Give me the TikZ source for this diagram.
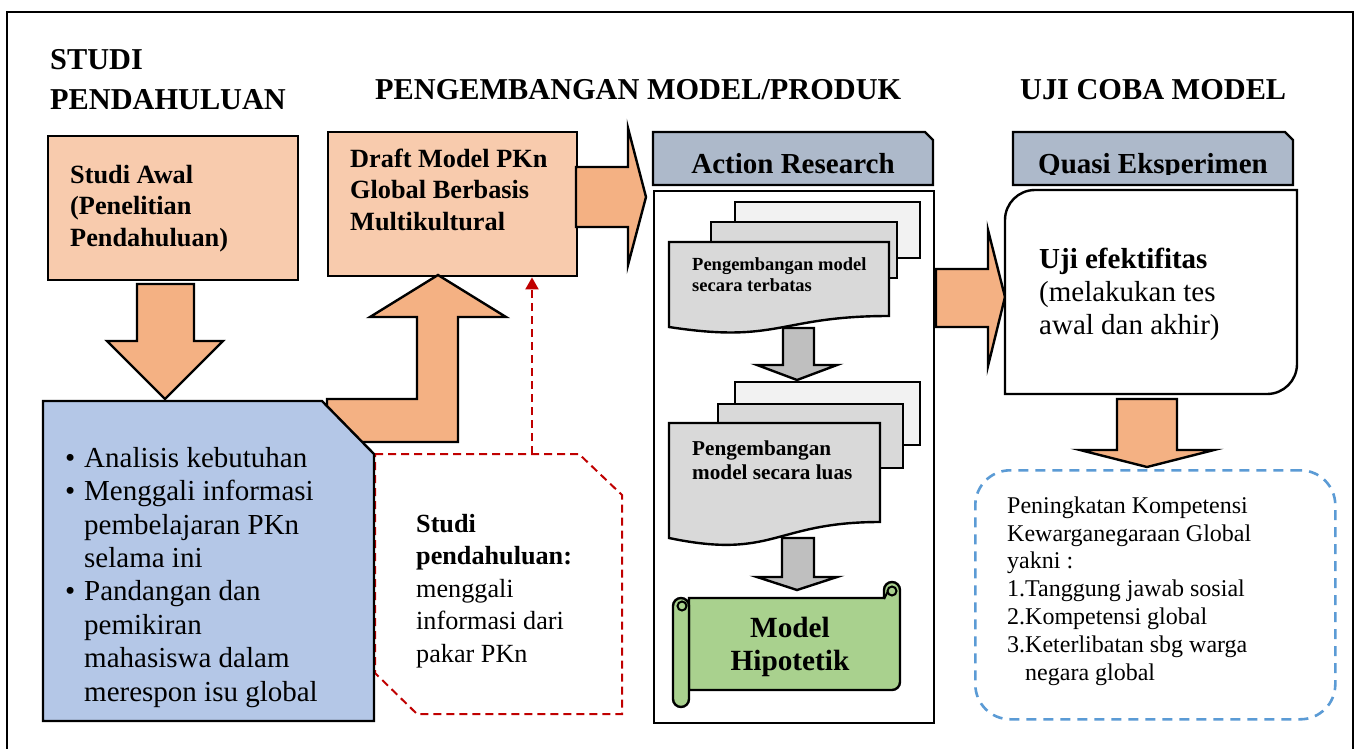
\documentclass[tikz,border=0pt]{standalone}
\usepackage{fontspec}
\setmainfont{Liberation Serif}
\usetikzlibrary{arrows.meta}

\definecolor{peach}{HTML}{F8CBAD}
\definecolor{apricot}{HTML}{F4B183}
\definecolor{paleblue}{HTML}{B4C7E7}
\definecolor{slate}{HTML}{ADB9CA}
\definecolor{sheetlight}{HTML}{F2F2F2}
\definecolor{sheetgrey}{HTML}{D9D9D9}
\definecolor{arrowgrey}{HTML}{BFBFBF}
\definecolor{leafgreen}{HTML}{A9D18E}
\definecolor{deepred}{HTML}{C00000}
\definecolor{skyblue}{HTML}{5B9BD5}

\newcommand{\fsz}[2]{\fontsize{#1}{#2}\selectfont}
\newcommand{\bul}{\makebox[19pt][l]{\textbullet}}
\newcommand{\hang}{\hspace*{19pt}}

\begin{document}
\begin{tikzpicture}[x=1pt,y=-1pt,
  outline/.style={draw=black,line width=2.4pt,line join=miter,miter limit=12},
  panel/.style={outline,rectangle,inner sep=0pt,anchor=north west},
  orangearrow/.style={outline,fill=apricot},
  greyarrow/.style={outline,fill=arrowgrey},
  % multi-line labels are placed by the baseline of their LAST line
  label/.style={inner sep=0pt,anchor=base west,align=left},
  heading/.style={label,font=\fsz{30.3}{40}\bfseries},
  reddash/.style={draw=deepred,line width=2pt,dash pattern=on 8pt off 5pt},
  bluedash/.style={draw=skyblue,line width=2.6pt,dash pattern=on 10pt off 7pt},
]
\useasboundingbox (0,0) rectangle (1360,749);
\fill[white] (0,0) rectangle (1360,749);

% outer frame
\draw[line width=2.6pt] (7,12) rectangle (1353,780);

% section headings
\node[heading] (hStudi) at (50,110) {STUDI\\PENDAHULUAN};
\node[heading] (hDev) at (375,100) {PENGEMBANGAN MODEL/PRODUK};
\node[heading] (hTrial) at (1020,100) {UJI COBA MODEL};

% ---------------- preliminary study column ----------------
\node[panel,fill=peach,minimum width=250pt,minimum height=144pt] (awal) at (47,135) {};
\node[label,font=\fsz{26.3}{31.5}\bfseries] (awalText) at (70,246)
  {Studi Awal\\(Penelitian\\Pendahuluan)};

\draw[orangearrow] (137,284) -- (194,284) -- (194,341) -- (223,341)
  -- (165,399) -- (107,341) -- (137,341) -- cycle;

% draft model box
\node[panel,fill=peach,minimum width=249pt,minimum height=144pt] (draft) at (327,131) {};
\node[label,font=\fsz{26.3}{31.5}\bfseries] (draftText) at (350,230)
  {Draft Model PKn\\Global Berbasis\\Multikultural};

% bent arrow from the needs analysis up to the draft
\draw[orangearrow] (327,399) -- (417,399) -- (417,317) -- (370,317)
  -- (438,275) -- (506,317) -- (458,317) -- (458,442) -- (327,442) -- cycle;

% expert consultation (dashed octagon) and its link to the draft
\draw[reddash] (375,454) -- (579,454) -- (622,495) -- (622,714)
  -- (417,714) -- (375,673) -- cycle;
\coordinate (expertTop) at (532,454);
\draw[reddash,-{Triangle[length=12pt,width=13pt]}] (expertTop) -- (expertTop |- draft.south);
\node[label,font=\fsz{26.2}{32.5}] (expertText) at (416,662)
  {\textbf{Studi}\\\textbf{pendahuluan:}\\menggali\\informasi dari\\pakar PKn};

% needs analysis box with clipped corner
\draw[outline,fill=paleblue] (43,401) -- (322,401) -- (374,454) -- (374,721)
  -- (43,721) -- cycle;
\node[label,font=\fsz{29}{33.4}] (needs) at (65,701)
  {\bul Analisis kebutuhan\\\bul Menggali informasi\\\hang pembelajaran PKn\\\hang selama ini\\
   \bul Pandangan dan\\\hang pemikiran\\\hang mahasiswa dalam\\\hang merespon isu global};

% arrow draft -> action research
\draw[orangearrow] (576,167) -- (628,167) -- (628,128) -- (646,197)
  -- (628,265) -- (628,227) -- (576,227) -- cycle;

% ---------------- action research column ----------------
\draw[outline,fill=slate] (653,132) -- (925,132) -- (933,140) -- (933,185)
  -- (653,185) -- cycle;
\node[inner sep=0pt,anchor=base,font=\fsz{29}{33}\bfseries] (arTitle) at (793,173) {Action Research};
\node[panel,fill=white,minimum width=280pt,minimum height=532pt] (arBody) at (653,190) {};

% first document stack
\draw[outline,fill=sheetlight] (735,202) rectangle (920,258);
\draw[outline,fill=sheetgrey] (711,222) rectangle (897,278);
\draw[outline,fill=sheetgrey] (669,327) -- (669,242) -- (889,242) -- (889,316)
  .. controls (779,316) and (779,344) .. (669,327) -- cycle;
\node[label,font=\fsz{18.5}{21}\bfseries] (docA) at (692,291)
  {Pengembangan model\\secara terbatas};

\draw[greyarrow] (783,328) -- (814,328) -- (814,365) -- (837,365)
  -- (797,380) -- (757,365) -- (783,365) -- cycle;

% second document stack
\draw[outline,fill=sheetlight] (735,382) rectangle (920,445);
\draw[outline,fill=sheetgrey] (718,404) rectangle (903,468);
\draw[outline,fill=sheetgrey] (669,538) -- (669,423) -- (880,423) -- (880,522)
  .. controls (774,522) and (774,560) .. (669,538) -- cycle;
\node[label,font=\fsz{21.2}{24}\bfseries] (docB) at (692,479)
  {Pengembangan\\model secara luas};

\draw[greyarrow] (782,538) -- (814,538) -- (814,577) -- (837,577)
  -- (797,590) -- (757,577) -- (782,577) -- cycle;

% hypothetical model scroll
\draw[outline,fill=leafgreen] (689,598) -- (884,598) -- (884,590)
  .. controls (884,585.6) and (887.6,582) .. (892,582)
  .. controls (896.4,582) and (900,585.6) .. (900,590)
  -- (900,682) .. controls (900,686.4) and (896.4,690) .. (892,690)
  -- (689,690) -- cycle;
\draw[outline,fill=leafgreen,rounded corners=8pt] (673,707) -- (673,598) -- (689,598) -- (689,707) -- cycle;
\draw[line width=2pt] (682,606) circle[radius=4.5pt];
\draw[line width=2pt] (892,591) circle[radius=4.5pt];
\draw[line width=2pt] (887.5,592) .. controls (886,595) and (885,597) .. (884,599);
\node[inner sep=0pt,anchor=base,align=center,font=\fsz{29.3}{33}\bfseries] (hypo) at (790,670)
  {Model\\Hipotetik};

% arrow action research -> effectiveness test
\draw[orangearrow] (936,269) -- (988,269) -- (988,230) -- (1005,297)
  -- (988,366) -- (988,327) -- (936,327) -- cycle;

% ---------------- trial column ----------------
\draw[outline,fill=slate] (1013,132) -- (1285,132) -- (1293,140) -- (1293,185)
  -- (1013,185) -- cycle;
\begin{scope}
  \clip (1013,120) rectangle (1293,174.5);
  \node[inner sep=0pt,anchor=base,font=\fsz{29}{33}\bfseries] (qeTitle) at (1153,173) {Quasi Eksperimen};
\end{scope}

\draw[outline,fill=white] (1005,394) -- (1005,220)
  .. controls (1005,203.4) and (1018.4,190) .. (1035,190) -- (1297,190) -- (1297,364)
  .. controls (1297,380.6) and (1283.6,394) .. (1267,394) -- cycle;
\node[label,font=\fsz{29}{33}] (ujiText) at (1039,334)
  {\textbf{Uji efektifitas}\\(melakukan tes\\awal dan akhir)};

\draw[orangearrow] (1117,399) -- (1177,399) -- (1177,450) -- (1214,450)
  -- (1147,467) -- (1080,450) -- (1117,450) -- cycle;

\node[bluedash,rectangle,rounded corners=35pt,inner sep=0pt,anchor=north west,
  minimum width=360pt,minimum height=249pt] (outcome) at (974,469) {};
\node[label,font=\fsz{24}{27.8}] (outcomeText) at (1007,680)
  {Peningkatan Kompetensi\\Kewarganegaraan Global\\yakni :\\1.Tanggung jawab sosial\\
   2.Kompetensi global\\3.Keterlibatan sbg warga\\\phantom{3.}negara global};
\end{tikzpicture}
\end{document}
